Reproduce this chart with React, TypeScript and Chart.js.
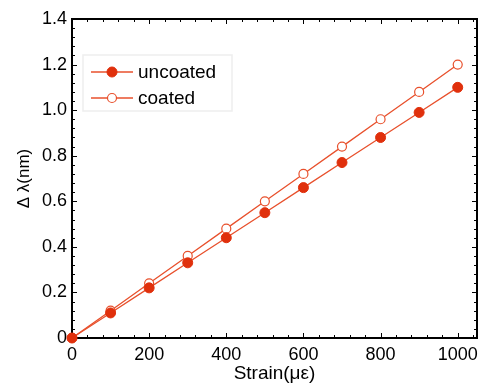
import React, { useEffect, useRef } from "react";
import { Chart, registerables } from "chart.js";

Chart.register(...registerables);

const strain = [0, 100, 200, 300, 400, 500, 600, 700, 800, 900, 1000];
const uncoated = [0, 0.11, 0.22, 0.33, 0.44, 0.55, 0.66, 0.77, 0.88, 0.99, 1.1];
const coated = [0, 0.12, 0.24, 0.36, 0.48, 0.6, 0.72, 0.84, 0.96, 1.08, 1.2];
const xTicks = [0, 200, 400, 600, 800, 1000];
const yTicks = [0, 0.2, 0.4, 0.6, 0.8, 1.0, 1.2, 1.4];
const seriesNames = ["uncoated", "coated"];

const FONT = "'Liberation Sans', Arial, sans-serif";
const RED = "#e0300c";
const LINE = "#e8502c";

const framePlugin = {
  id: "frame",
  beforeDatasetsDraw(chart: any) {
    const { ctx, chartArea: a, scales } = chart;
    const xs = scales.x, ys = scales.y;
    ctx.save();
    ctx.strokeStyle = "#000";
    ctx.lineWidth = 1;
    for (let v = 0; v <= 1050; v += 40) {
      const px = Math.round(xs.getPixelForValue(v)) + 0.5;
      const major = v % 200 === 0;
      const len = major ? 5 : 3;
      ctx.beginPath();
      ctx.moveTo(px, a.bottom);
      ctx.lineTo(px, a.bottom - len);
      ctx.moveTo(px, a.top);
      ctx.lineTo(px, a.top + len);
      ctx.stroke();
    }
    for (let i = 0; i <= 35; i++) {
      const v = i * 0.04;
      const py = Math.round(ys.getPixelForValue(v)) + 0.5;
      const major = i % 5 === 0;
      const len = major ? 5 : 3;
      ctx.beginPath();
      ctx.moveTo(a.left, py);
      ctx.lineTo(a.left + len, py);
      ctx.moveTo(a.right, py);
      ctx.lineTo(a.right - len, py);
      ctx.stroke();
    }
    ctx.lineWidth = 2;
    ctx.strokeRect(a.left, a.top, a.right - a.left, a.bottom - a.top);
    ctx.restore();
  },
  afterDraw(chart: any) {
    const { ctx } = chart;
    const bx = 83, by = 55, bw = 149, bh = 56;
    ctx.save();
    ctx.fillStyle = "#fff";
    ctx.fillRect(bx, by, bw, bh);
    ctx.strokeStyle = "#eeeeee";
    ctx.lineWidth = 1.5;
    ctx.strokeRect(bx, by, bw, bh);
    const rows = [72, 98];
    chart.data.datasets.forEach((ds: any, i: number) => {
      const y = rows[i];
      ctx.strokeStyle = ds.borderColor;
      ctx.lineWidth = 1.3;
      ctx.beginPath();
      ctx.moveTo(91, y);
      ctx.lineTo(133, y);
      ctx.stroke();
      ctx.beginPath();
      ctx.arc(112, y, ds.pointRadius, 0, Math.PI * 2);
      ctx.fillStyle = ds.pointBackgroundColor;
      ctx.fill();
      ctx.lineWidth = ds.pointBorderWidth;
      ctx.strokeStyle = ds.pointBorderColor;
      ctx.stroke();
      ctx.fillStyle = "#000";
      ctx.font = `19px ${FONT}`;
      ctx.textBaseline = "middle";
      ctx.textAlign = "left";
      ctx.fillText(ds.label, 138, y + 1);
    });
    ctx.restore();
  },
};

export default function App() {
  const ref = useRef<HTMLCanvasElement>(null);
  useEffect(() => {
    document.body.style.margin = "0";
    const chart = new Chart(ref.current!, {
      type: "line",
      data: {
        datasets: [
          {
            label: seriesNames[0],
            data: strain.map((x, i) => ({ x, y: uncoated[i] })),
            borderColor: LINE,
            borderWidth: 1.3,
            pointRadius: 5,
            pointBackgroundColor: RED,
            pointBorderColor: RED,
            pointBorderWidth: 1,
            clip: false,
          },
          {
            label: seriesNames[1],
            data: strain.map((x, i) => ({ x, y: coated[i] })),
            borderColor: LINE,
            borderWidth: 1.3,
            pointRadius: 4.5,
            pointBackgroundColor: "#ffffff",
            pointBorderColor: LINE,
            pointBorderWidth: 1.2,
            clip: false,
          },
        ],
      },
      options: {
        animation: false,
        responsive: false,
        maintainAspectRatio: false,
        layout: { padding: { top: 19, right: 9, left: 0, bottom: 0 } },
        plugins: { legend: { display: false }, tooltip: { enabled: false } },
        scales: {
          x: {
            type: "linear",
            min: 0,
            max: 1050,
            grid: { display: false, drawTicks: false },
            border: { display: false },
            afterBuildTicks: (s: any) => {
              s.ticks = xTicks.map((v) => ({ value: v }));
            },
            afterFit: (s: any) => {
              s.height = 47;
            },
            ticks: {
              color: "#000",
              font: { family: FONT, size: 18 },
              padding: 6,
              maxRotation: 0,
              autoSkip: false,
              callback: (v: any) => String(v),
            },
            title: {
              display: true,
              text: "Strain(με)",
              color: "#000",
              font: { family: FONT, size: 19 },
              padding: { top: 0, bottom: 0 },
            },
          },
          y: {
            min: 0,
            max: 1.4,
            grid: { display: false, drawTicks: false },
            border: { display: false },
            afterBuildTicks: (s: any) => {
              s.ticks = yTicks.map((v) => ({ value: v }));
            },
            afterFit: (s: any) => {
              s.width = 72;
            },
            ticks: {
              color: "#000",
              font: { family: FONT, size: 18 },
              padding: 5,
              autoSkip: false,
              callback: (v: any) => (v === 0 ? "0" : Number(v).toFixed(1)),
            },
            title: {
              display: true,
              text: "Δ λ(nm)",
              color: "#000",
              font: { family: FONT, size: 17 },
              padding: { top: 14, bottom: 0 },
            },
          },
        },
      },
      plugins: [framePlugin],
    });
    return () => chart.destroy();
  }, []);
  return (
    <div style={{ width: 486, height: 385, background: "#fff" }}>
      <canvas ref={ref} width={486} height={385} />
    </div>
  );
}
